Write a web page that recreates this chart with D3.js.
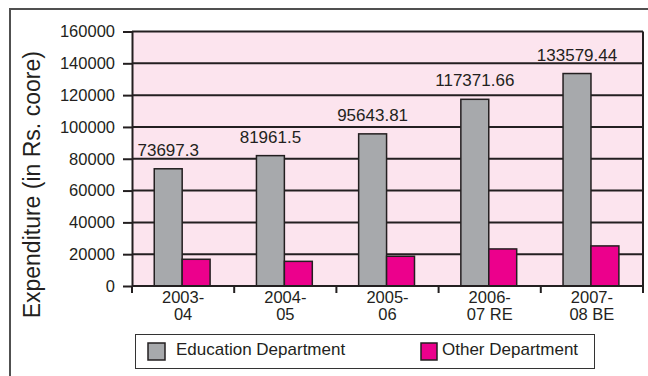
<!DOCTYPE html>
<html>
<head>
<meta charset="utf-8">
<script src="https://cdn.jsdelivr.net/npm/d3@7"></script>
<style>
  html, body { margin: 0; padding: 0; background: #ffffff; }
  svg { display: block; font-family: "Liberation Sans", Arial, sans-serif; }
</style>
</head>
<body>
<svg id="chart" width="648" height="376"></svg>
<script>
// Years shown on the x axis (RE = revised estimate, BE = budget estimate)
const categories = ["2003-04", "2004-05", "2005-06", "2006-07 RE", "2007-08 BE"];
const seriesNames = ["Education Department", "Other Department"];
const educationValues = [73697.3, 81961.5, 95643.81, 117371.66, 133579.44];
const otherValues = [16800, 15500, 18700, 23300, 25200];
const yTicks = [0, 20000, 40000, 60000, 80000, 100000, 120000, 140000, 160000];
const yTitle = "Expenditure (in Rs. coore)";

const colors = { "Education Department": "#a7a9ac", "Other Department": "#ec008c" };
const ink = "#231f20";

const svg = d3.select("#chart");

// outer frame (top and left edges)
svg.append("path")
  .attr("d", "M10,376 L10,9 L648,9")
  .attr("fill", "none").attr("stroke", "#505050").attr("stroke-width", 2);

const plot = { left: 132, right: 643, top: 31.5, bottom: 286 };

const x0 = d3.scaleBand().domain(categories).range([plot.left, plot.right]).padding(0);
const x1 = d3.scaleBand().domain(seriesNames).range([0, x0.bandwidth()])
  .paddingInner(0).paddingOuter(0.83).align(0.48);
const y = d3.scaleLinear().domain([0, 160000]).range([plot.bottom, plot.top]);

// plot background
svg.append("rect")
  .attr("x", plot.left).attr("y", plot.top)
  .attr("width", plot.right - plot.left).attr("height", plot.bottom - plot.top)
  .attr("fill", "#fce4ee");

// horizontal gridlines
svg.append("g").selectAll("line").data(yTicks).join("line")
  .attr("x1", plot.left).attr("x2", plot.right)
  .attr("y1", d => y(d)).attr("y2", d => y(d))
  .attr("stroke", ink).attr("stroke-width", 2);

// right border of the plot
svg.append("line")
  .attr("x1", plot.right).attr("x2", plot.right)
  .attr("y1", plot.top).attr("y2", plot.bottom + 7)
  .attr("stroke", ink).attr("stroke-width", 2);

// y axis
const yAxis = svg.append("g")
  .attr("transform", `translate(${plot.left},0)`)
  .call(d3.axisLeft(y).tickValues(yTicks).tickFormat(d3.format("d"))
    .tickSize(9).tickSizeOuter(0).tickPadding(8));
yAxis.select(".domain").attr("stroke", ink).attr("stroke-width", 2);
yAxis.selectAll(".tick line").attr("stroke", ink).attr("stroke-width", 2);
yAxis.selectAll(".tick text")
  .attr("fill", ink).attr("font-size", 16.5)
  .attr("font-family", "'Liberation Sans', Arial, sans-serif");

// bars
const rows = categories.map((c, i) => ({
  category: c,
  values: [
    { series: seriesNames[0], value: educationValues[i] },
    { series: seriesNames[1], value: otherValues[i] }
  ]
}));

const groups = svg.append("g").selectAll("g").data(rows).join("g")
  .attr("transform", d => `translate(${x0(d.category)},0)`);

groups.selectAll("rect").data(d => d.values).join("rect")
  .attr("x", d => x1(d.series))
  .attr("y", d => y(d.value))
  .attr("width", x1.bandwidth())
  .attr("height", d => y(0) - y(d.value))
  .attr("fill", d => colors[d.series])
  .attr("stroke", ink).attr("stroke-width", 1.5);

// value labels over the education bars
groups.append("text")
  .attr("x", x1(seriesNames[0]) + x1.bandwidth() / 2)
  .attr("y", (d, i) => y(educationValues[i]) - 13)
  .attr("text-anchor", "middle")
  .attr("font-size", 17).attr("fill", ink)
  .text((d, i) => String(educationValues[i]));

// x axis baseline and band-edge ticks
svg.append("line")
  .attr("x1", plot.left).attr("x2", plot.right)
  .attr("y1", y(0)).attr("y2", y(0))
  .attr("stroke", ink).attr("stroke-width", 2);
const edges = categories.map(c => x0(c)).concat([x0(categories[categories.length - 1]) + x0.bandwidth()]);
svg.append("g").selectAll("line").data(edges).join("line")
  .attr("x1", d => d).attr("x2", d => d)
  .attr("y1", y(0)).attr("y2", y(0) + 7)
  .attr("stroke", ink).attr("stroke-width", 2);

// two-line category labels, broken after the hyphen
const xLabels = svg.append("g").selectAll("text").data(categories).join("text")
  .attr("text-anchor", "middle")
  .attr("font-size", 16.5).attr("fill", ink)
  .attr("transform", d => `translate(${x0(d) + x0.bandwidth() / 2},${y(0) + 17})`);
xLabels.selectAll("tspan").data(d => d.split(/(?<=-)/)).join("tspan")
  .attr("x", 0)
  .attr("dy", (d, i) => i === 0 ? 0 : 17)
  .text(d => d);

// y axis title
svg.append("text")
  .attr("transform", `translate(40,${(plot.top + plot.bottom) / 2 + 26}) rotate(-90)`)
  .attr("text-anchor", "middle")
  .attr("font-size", 23).attr("fill", ink)
  .text(yTitle);

// legend
const legend = svg.append("g");
legend.append("rect")
  .attr("x", 135.5).attr("y", 334.5).attr("width", 459).attr("height", 34)
  .attr("fill", "#ffffff").attr("stroke", "#333333").attr("stroke-width", 1);
const legendX = [148, 421];
const legendItems = legend.selectAll("g.item").data(seriesNames).join("g")
  .attr("class", "item")
  .attr("transform", (d, i) => `translate(${legendX[i]},343)`);
legendItems.append("rect")
  .attr("width", (d, i) => i === 0 ? 17 : 16).attr("height", 17)
  .attr("fill", d => colors[d]).attr("stroke", ink).attr("stroke-width", 1.5);
legendItems.append("text")
  .attr("x", (d, i) => i === 0 ? 28 : 21).attr("y", 11.5)
  .attr("font-size", 17).attr("fill", ink)
  .text(d => d);
</script>
</body>
</html>
